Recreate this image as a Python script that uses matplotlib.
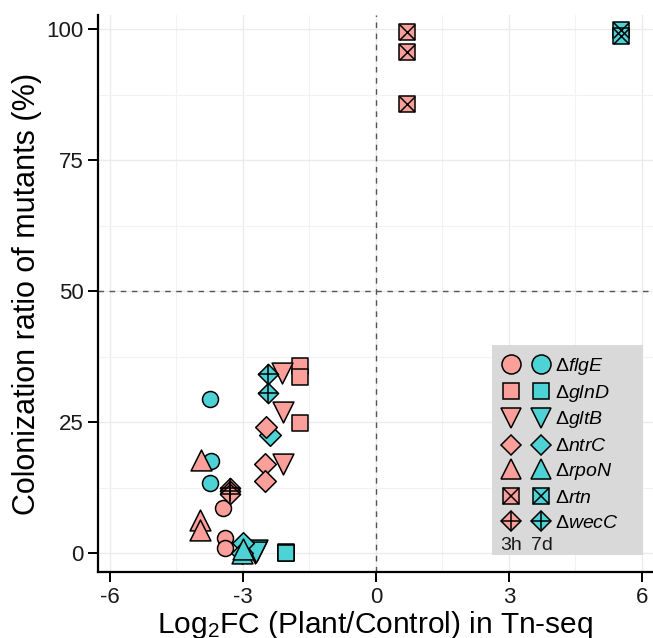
import matplotlib
matplotlib.use("Agg")
import matplotlib.pyplot as plt
from matplotlib.lines import Line2D
from matplotlib.text import Text
from matplotlib.patches import Rectangle
from matplotlib.legend_handler import HandlerBase

plt.rcParams['font.family'] = ['Liberation Sans', 'DejaVu Sans']
plt.rcParams['mathtext.fontset'] = 'custom'
plt.rcParams['mathtext.rm'] = 'Liberation Sans'
plt.rcParams['mathtext.it'] = 'Liberation Sans:italic'
plt.rcParams['axes.unicode_minus'] = False

# ---------------- data ----------------
genes = ["flgE", "glnD", "gltB", "ntrC", "rpoN", "rtn", "wecC"]
times = ["3h", "7d"]

flgE_3h_x = [-3.45, -3.40, -3.40]
flgE_3h_y = [8.7, 2.8, 0.9]
flgE_7d_x = [-3.75, -3.72, -3.75]
flgE_7d_y = [29.5, 17.6, 13.4]

glnD_3h_x = [-1.71, -1.71, -1.71]
glnD_3h_y = [35.8, 33.6, 24.8]
glnD_7d_x = [-2.03, -2.03, -2.03]
glnD_7d_y = [0.2, 0.0, 0.0]

gltB_3h_x = [-2.12, -2.09, -2.09]
gltB_3h_y = [34.3, 27.0, 17.0]
gltB_7d_x = [-2.72, -2.68, -2.70]
gltB_7d_y = [0.0, 0.6, 0.3]

ntrC_3h_x = [-2.47, -2.50, -2.50]
ntrC_3h_y = [24.1, 17.0, 13.7]
ntrC_7d_x = [-2.39, -3.00, -3.02]
ntrC_7d_y = [22.5, 1.9, 0.0]

rpoN_3h_x = [-3.95, -3.97, -3.97]
rpoN_3h_y = [17.7, 6.3, 4.5]
rpoN_7d_x = [-3.02, -3.00]
rpoN_7d_y = [0.0, 0.8]

rtn_3h_x = [0.70, 0.70, 0.70]
rtn_3h_y = [99.5, 95.7, 85.7]
rtn_7d_x = [5.53, 5.53]
rtn_7d_y = [99.8, 98.6]

wecC_3h_x = [-3.30, -3.30, -3.30]
wecC_3h_y = [12.5, 11.8, 11.2]
wecC_7d_x = [-2.43, -2.43]
wecC_7d_y = [34.2, 30.6]

xticks = [-6, -3, 0, 3, 6]
yticks = [0, 25, 50, 75, 100]

# ---------------- styles ----------------
colors = {"3h": "#FA9F99", "7d": "#4DD2D5"}
# (main marker, size, overlay marker, overlay size, legend size, legend overlay size)
shape = {
    "flgE": ("o", 11.5, None, 0, 13.7, 0),
    "glnD": ("s", 11.0, None, 0, 11.8, 0),
    "gltB": ("v", 15.0, None, 0, 14.4, 0),
    "ntrC": ("D", 11.0, None, 0, 10.6, 0),
    "rpoN": ("^", 15.0, None, 0, 14.4, 0),
    "rtn":  ("s", 11.0, "x", 11.0, 11.8, 11.8),
    "wecC": ("D", 10.3, "+", 14.5, 10.6, 14.9),
}
data = {
    ("flgE", "3h"): (flgE_3h_x, flgE_3h_y), ("flgE", "7d"): (flgE_7d_x, flgE_7d_y),
    ("glnD", "3h"): (glnD_3h_x, glnD_3h_y), ("glnD", "7d"): (glnD_7d_x, glnD_7d_y),
    ("gltB", "3h"): (gltB_3h_x, gltB_3h_y), ("gltB", "7d"): (gltB_7d_x, gltB_7d_y),
    ("ntrC", "3h"): (ntrC_3h_x, ntrC_3h_y), ("ntrC", "7d"): (ntrC_7d_x, ntrC_7d_y),
    ("rpoN", "3h"): (rpoN_3h_x, rpoN_3h_y), ("rpoN", "7d"): (rpoN_7d_x, rpoN_7d_y),
    ("rtn", "3h"): (rtn_3h_x, rtn_3h_y), ("rtn", "7d"): (rtn_7d_x, rtn_7d_y),
    ("wecC", "3h"): (wecC_3h_x, wecC_3h_y), ("wecC", "7d"): (wecC_7d_x, wecC_7d_y),
}

EW = 1.1

fig = plt.figure(figsize=(6.53, 6.38), dpi=100)
ax = fig.add_axes([98 / 653, 66 / 638, 555 / 653, 557 / 638])

# grid
ax.set_xticks(xticks)
ax.set_yticks(yticks)
ax.set_xticks([-4.5, -1.5, 1.5, 4.5], minor=True)
ax.set_yticks([12.5, 37.5, 62.5, 87.5], minor=True)
ax.grid(True, which='major', color='#ebebeb', lw=1.0, zorder=0)
ax.grid(True, which='minor', color='#f2f2f2', lw=0.8, zorder=0)
ax.set_axisbelow(True)
ax.tick_params(which='minor', length=0)

ax.axvline(0, color='#555555', lw=1.0, ls=(0, (4, 4)), zorder=1)
ax.axhline(50, color='#555555', lw=1.0, ls=(0, (4, 4)), zorder=1)

z = 3
for g in genes:
    for t in ["7d", "3h"]:
        xs, ys = data[(g, t)]
        m, ms, ov, ovs, _, _ = shape[g]
        ax.scatter(xs, ys, marker=m, s=ms ** 2, facecolor=colors[t],
                   edgecolor='black', linewidth=EW, zorder=z)
        if ov:
            ax.scatter(xs, ys, marker=ov, s=ovs ** 2, color='black',
                       linewidth=EW, zorder=z + 0.5)
        z += 1

ax.set_xlim(-6.27, 6.25)
ax.set_ylim(-3.6, 102.7)

for s in ['top', 'right']:
    ax.spines[s].set_visible(False)
for s in ['left', 'bottom']:
    ax.spines[s].set_linewidth(1.6)
    ax.spines[s].set_color('black')
ax.tick_params(which='major', length=7, width=1.4, color='black',
               labelsize=16, labelcolor='#1a1a1a', pad=3.5)

ax.set_xlabel("Log$_2$FC (Plant/Control) in Tn-seq", fontsize=21.5, labelpad=1)
ax.set_ylabel("Colonization ratio of mutants (%)", fontsize=22, labelpad=3)


# ---------------- legend ----------------
class PairSpec:
    def __init__(self, gene):
        self.gene = gene


class TextSpec:
    def __init__(self, a, b):
        self.a = a
        self.b = b


class PairHandler(HandlerBase):
    def create_artists(self, legend, orig_handle, xdescent, ydescent, width,
                       height, fontsize, trans):
        m, ms, ov, ovs, lms, lovs = shape[orig_handle.gene]
        arts = []
        cy = height / 2 - ydescent
        for frac, t in ((0.22, "3h"), (0.78, "7d")):
            cx = -xdescent + frac * width
            l = Line2D([cx], [cy], marker=m, markersize=lms, ls='none',
                       markerfacecolor=colors[t], markeredgecolor='black',
                       markeredgewidth=EW, transform=trans)
            arts.append(l)
            if ov:
                o = Line2D([cx], [cy], marker=ov, markersize=lovs, ls='none',
                           color='black', markeredgewidth=EW, transform=trans)
                arts.append(o)
        return arts


class TextHandler(HandlerBase):
    def create_artists(self, legend, orig_handle, xdescent, ydescent, width,
                       height, fontsize, trans):
        arts = []
        cy = height / 2 - ydescent
        for frac, s in ((0.22, orig_handle.a), (0.78, orig_handle.b)):
            cx = -xdescent + frac * width
            arts.append(Text(cx, cy, s, ha='center', va='center',
                             fontsize=fontsize, color='#1a1a1a', transform=trans))
        return arts


# legend background panel
ax.add_patch(Rectangle((0.71, 0.0305), 0.272, 0.377, transform=ax.transAxes,
                       facecolor='#d9d9d9', edgecolor='none', zorder=19))

handles = [PairSpec(g) for g in genes] + [TextSpec(times[0], times[1])]
labels = ["Δ$\\mathit{" + g + "}$" for g in genes] + [""]
hmap = {PairSpec: PairHandler(), TextSpec: TextHandler()}

leg = ax.legend(handles, labels, handler_map=hmap, loc='upper left',
                bbox_to_anchor=(0.7225, 0.39), borderaxespad=0,
                fontsize=14, frameon=False,
                handlelength=2.8, handleheight=1.1, handletextpad=0.08,
                labelspacing=0.25, borderpad=0)
leg.set_zorder(20)

fig.savefig("out.png", dpi=100)
